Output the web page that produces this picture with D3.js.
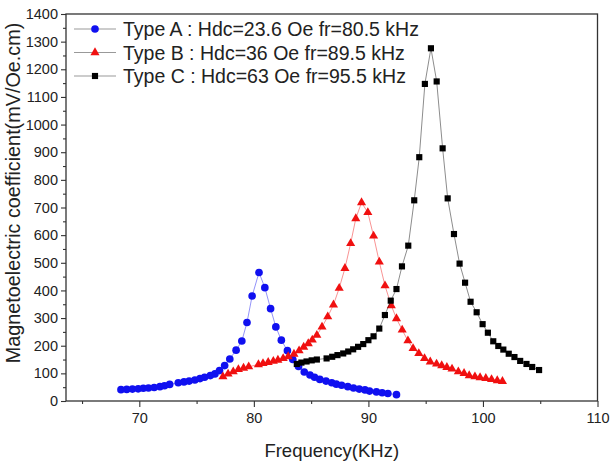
<!DOCTYPE html>
<html><head><meta charset="utf-8">
<script src="https://cdn.jsdelivr.net/npm/d3@7"></script>
<style>body{margin:0;background:#fff;} svg{display:block;font-family:Arial,"Liberation Sans",sans-serif;}</style>
</head><body>
<script>
// ---- data ----
const freqA = [68.4,68.9,69.4,69.9,70.35,70.8,71.3,71.8,72.2,72.65,73.4,73.9,74.35,74.85,75.3,75.7,76.2,76.6,77.0,77.45,77.9,78.45,78.95,79.4,79.85,80.45,80.96,81.46,81.92,82.4,82.93,83.4,83.9,84.4,84.9,85.3,85.76,86.3,86.8,87.2,87.66,88.2,88.7,89.2,89.7,90.1,90.7,91.2,91.7,92.45];
const valueA = [41,42,43,44,46,47,49,52,55,60,66,69,72,76,81,86,92,98,110,128,152,184,217,284,380,465,410,334,268,220,182,150,125,105,94,86,78,72,66,61,57,52,47,43,40,36,33,30,27,23];
const freqB = [77.3,77.75,78.2,78.65,79.1,79.55,80.4,80.8,81.25,81.7,82.1,82.56,83.0,83.5,83.95,84.35,84.75,85.1,85.5,85.95,86.45,86.95,87.45,87.95,88.45,88.9,89.4,89.95,90.45,90.95,91.45,92.0,92.45,92.95,93.45,93.9,94.4,94.9,95.4,95.95,96.4,96.85,97.3,97.85,98.35,98.8,99.3,99.75,100.25,100.75,101.25,101.7];
const valueB = [88,98,106,114,119,124,132,136,140,144,148,154,161,170,182,195,208,221,238,268,305,348,408,480,570,660,718,682,597,503,417,345,298,257,218,190,172,154,142,134,128,122,116,106,100,92,88,85,82,78,74,71];
const freqC = [83.75,84.15,84.6,85.05,85.5,86.35,86.84,87.3,87.8,88.24,88.67,89.1,89.55,90.0,90.45,90.95,91.44,91.95,92.45,92.93,93.48,94.0,94.44,94.93,95.46,95.96,96.48,96.92,97.47,97.96,98.44,98.92,99.45,99.97,100.43,100.9,101.34,101.78,102.25,102.75,103.25,103.8,104.3,104.9];
const valueC = [134,139,143,147,150,154,160,166,172,179,187,196,206,220,234,262,311,363,405,487,562,726,882,1147,1276,1156,914,733,604,497,428,359,321,278,247,216,199,186,171,159,145,134,123,112];
const seriesNames = ["Type A : Hdc=23.6 Oe fr=80.5 kHz","Type B : Hdc=36 Oe fr=89.5 kHz","Type C : Hdc=63 Oe fr=95.5 kHz"];
const xMajorTicks = [70,80,90,100,110];
const xMinorTicks = [65,75,85,95,105];
const yMajorTicks = d3.range(0,1401,100);
const yMinorTicks = d3.range(50,1400,100);
const xTitle = "Frequency(KHz)";
const yTitle = "Magnetoelectric coefficient(mV/Oe.cm)";

// ---- drawing ----
const W=611,H=465;
const svg = d3.select("body").append("svg").attr("width",W).attr("height",H);
const x = d3.scaleLinear().domain([63.6,110]).range([66,597.5]);
const y = d3.scaleLinear().domain([0,1400]).range([401,14]);
const [x0,x1]=x.range(), [y0,y1]=y.range();
const txt="#222", axc="#333";

// axes
svg.append("g").attr("transform",`translate(0,${y0})`)
  .call(d3.axisBottom(x).tickValues(xMajorTicks).tickSize(6).tickPadding(6).tickFormat(d3.format("d")));
svg.append("g").attr("transform",`translate(0,${y0})`)
  .call(d3.axisBottom(x).tickValues(xMinorTicks).tickSize(3).tickFormat(""));
svg.append("g").attr("transform",`translate(${x0},0)`)
  .call(d3.axisLeft(y).tickValues(yMajorTicks).tickSize(5).tickPadding(3).tickFormat(d3.format("d")));
svg.append("g").attr("transform",`translate(${x0},0)`)
  .call(d3.axisLeft(y).tickValues(yMinorTicks).tickSize(3).tickFormat(""));
svg.selectAll(".domain").remove();
svg.selectAll(".tick line").attr("stroke",axc).attr("stroke-width",1.1);
svg.selectAll(".tick text").attr("fill",txt).style("font-size","14.5px").style("font-family","Arial, 'Liberation Sans', sans-serif");

// frame
svg.append("rect").attr("x",x0).attr("y",y1).attr("width",x1-x0).attr("height",y0-y1)
  .attr("fill","none").attr("stroke",axc).attr("stroke-width",1.3);

// titles
svg.append("text").attr("x",(x0+x1)/2).attr("y",457).attr("text-anchor","middle")
  .attr("fill",txt).style("font-size","18.5px").text(xTitle);
svg.append("text").attr("transform",`translate(20,193) rotate(-90)`).attr("text-anchor","middle")
  .attr("fill",txt).style("font-size","19.8px").text(yTitle);

// series
const series = [
  {f:freqA, v:valueA, color:"#1010f0", sym:d3.symbolCircle, size:46},
  {f:freqB, v:valueB, color:"#f01010", sym:d3.symbolTriangle, size:36},
  {f:freqC, v:valueC, color:"#000000", sym:d3.symbolSquare, size:38}
];
const line = d3.line().x(d=>x(d[0])).y(d=>y(d[1]));
series.forEach(s=>{
  const pts = s.f.map((f,i)=>[f,s.v[i]]);
  svg.append("path").attr("d",line(pts)).attr("fill","none")
    .attr("stroke",s.color).attr("stroke-opacity",0.45).attr("stroke-width",1);
  svg.append("g").selectAll("path").data(pts).join("path")
    .attr("transform",d=>`translate(${x(d[0])},${y(d[1])})`)
    .attr("d",d3.symbol().type(s.sym).size(s.size)).attr("fill",s.color);
});

// legend
const lg = svg.append("g");
series.forEach((s,i)=>{
  const ly = 29 + i*23.5;
  lg.append("line").attr("x1",74).attr("x2",116).attr("y1",ly).attr("y2",ly)
    .attr("stroke","#999").attr("stroke-width",1);
  lg.append("path").attr("transform",`translate(95,${ly})`)
    .attr("d",d3.symbol().type(s.sym).size(s.size)).attr("fill",s.color);
  lg.append("text").attr("x",123).attr("y",ly).attr("dy","0.36em")
    .attr("fill",txt).style("font-size","19.5px").text(seriesNames[i]);
});
</script>
</body></html>
